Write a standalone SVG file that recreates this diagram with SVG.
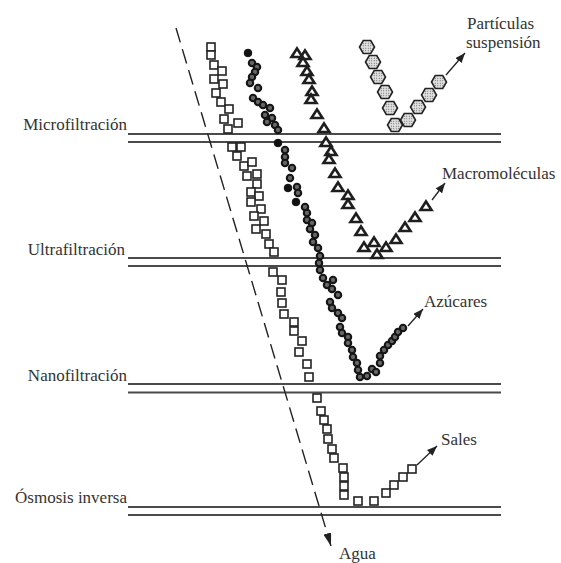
<svg xmlns="http://www.w3.org/2000/svg" width="561" height="563" viewBox="0 0 561 563">
<style>
.lbl{font-size:17px;fill:#333}
.mem{stroke:#4a4a4a;stroke-width:2;fill:none}
.sq{fill:#fff;stroke:#222;stroke-width:1.6}
.ci{fill:#666;stroke:#151515;stroke-width:2.1}
.cb{fill:#111;stroke:#111;stroke-width:1}
.tr{fill:#fff;stroke:#1e1e1e;stroke-width:2.6;stroke-linejoin:miter}
.hx{fill:url(#dots);stroke:#222;stroke-width:1.6}
.arr{stroke:#222;stroke-width:1.3;fill:none;marker-end:url(#ah)}
</style>
<defs>
<marker id="ah" markerUnits="userSpaceOnUse" markerWidth="10" markerHeight="8" refX="10" refY="4" orient="auto"><path d="M0,0 L10,4 L0,8 z" fill="#222"/></marker>
<marker id="ah2" markerUnits="userSpaceOnUse" markerWidth="13" markerHeight="8" refX="13" refY="4" orient="auto"><path d="M0,0 L13,4 L0,8 z" fill="#222"/></marker>
<pattern id="dots" patternUnits="userSpaceOnUse" width="2.5" height="2.5"><rect width="2.5" height="2.5" fill="#e2e2e2"/><circle cx="1.25" cy="1.25" r="0.55" fill="#555"/></pattern>
<polygon id="tri" points="-5.5,4 5.5,4 0,-4.5"/>
<polygon id="hex" points="7.5,0 3.75,6.5 -3.75,6.5 -7.5,0 -3.75,-6.5 3.75,-6.5"/>
</defs>
<rect width="561" height="563" fill="#fff"/>

<g id="membranes">
<line class="mem" x1="128" y1="134" x2="501" y2="134"/><line class="mem" x1="128" y1="142" x2="501" y2="142"/>
<line class="mem" x1="128" y1="258" x2="501" y2="258"/><line class="mem" x1="128" y1="266" x2="501" y2="266"/>
<line class="mem" x1="128" y1="384" x2="501" y2="384"/><line class="mem" x1="128" y1="392.5" x2="501" y2="392.5"/>
<line class="mem" x1="128" y1="507" x2="501" y2="507"/><line class="mem" x1="128" y1="515" x2="501" y2="515"/>
</g>

<g id="labels" font-family="'Liberation Serif', 'Times New Roman', Tinos, 'DejaVu Serif', serif">
<text class="lbl" x="127" y="130" text-anchor="end">Microfiltración</text>
<text class="lbl" x="125" y="255" text-anchor="end">Ultrafiltración</text>
<text class="lbl" x="127" y="381" text-anchor="end">Nanofiltración</text>
<text class="lbl" x="127" y="503" text-anchor="end">Ósmosis inversa</text>
<text class="lbl" x="467" y="29">Partículas</text>
<text class="lbl" x="466" y="48">suspensión</text>
<text class="lbl" x="442" y="179">Macromoléculas</text>
<text class="lbl" x="424" y="307">Azúcares</text>
<text class="lbl" x="441" y="445">Sales</text>
<text class="lbl" x="339" y="559">Agua</text>
</g>

<g id="connectors">
<line x1="176" y1="28" x2="331" y2="546" stroke="#222" stroke-width="1.4" stroke-dasharray="15 7" marker-end="url(#ah2)"/>
<line class="arr" x1="446" y1="75" x2="465" y2="53"/>
<line class="arr" x1="432" y1="200" x2="445" y2="183"/>
<line class="arr" x1="408" y1="326" x2="423" y2="309"/>
<line class="arr" x1="417" y1="465" x2="437" y2="446"/>
</g>

<g id="water-salts">
<rect class="sq" x="207" y="43" width="8" height="8"/><rect class="sq" x="207" y="51" width="8" height="8"/>
<rect class="sq" x="210" y="61" width="8" height="8"/><rect class="sq" x="218" y="67" width="8" height="8"/>
<rect class="sq" x="210" y="75" width="8" height="8"/><rect class="sq" x="219" y="80" width="8" height="8"/>
<rect class="sq" x="212" y="89" width="8" height="8"/><rect class="sq" x="217" y="98" width="8" height="8"/>
<rect class="sq" x="225" y="105" width="8" height="8"/><rect class="sq" x="220" y="115" width="8" height="8"/>
<rect class="sq" x="234" y="119" width="8" height="8"/><rect class="sq" x="224" y="125" width="8" height="8"/>
<rect class="sq" x="228" y="143" width="8" height="8"/><rect class="sq" x="237" y="143" width="8" height="8"/>
<rect class="sq" x="233" y="152" width="8" height="8"/><rect class="sq" x="240" y="162" width="8" height="8"/>
<rect class="sq" x="248" y="158" width="8" height="8"/><rect class="sq" x="243" y="172" width="8" height="8"/>
<rect class="sq" x="253" y="170" width="8" height="8"/><rect class="sq" x="253" y="180" width="8" height="8"/>
<rect class="sq" x="247" y="188" width="8" height="8"/><rect class="sq" x="255" y="192" width="8" height="8"/>
<rect class="sq" x="247" y="198" width="8" height="8"/><rect class="sq" x="257" y="205" width="8" height="8"/>
<rect class="sq" x="250" y="212" width="8" height="8"/><rect class="sq" x="260" y="217" width="8" height="8"/>
<rect class="sq" x="252" y="225" width="8" height="8"/><rect class="sq" x="262" y="230" width="8" height="8"/>
<rect class="sq" x="265" y="240" width="8" height="8"/><rect class="sq" x="270" y="248" width="8" height="8"/>
<rect class="sq" x="269" y="268" width="8" height="8"/><rect class="sq" x="278" y="276" width="8" height="8"/>
<rect class="sq" x="277" y="288" width="8" height="8"/><rect class="sq" x="278" y="299" width="8" height="8"/>
<rect class="sq" x="280" y="310" width="8" height="8"/><rect class="sq" x="290" y="318" width="8" height="8"/>
<rect class="sq" x="290" y="327" width="8" height="8"/><rect class="sq" x="298" y="337" width="8" height="8"/>
<rect class="sq" x="295" y="348" width="8" height="8"/><rect class="sq" x="303" y="360" width="8" height="8"/>
<rect class="sq" x="305" y="373" width="8" height="8"/>
<rect class="sq" x="313" y="394" width="8" height="8"/><rect class="sq" x="317" y="407" width="8" height="8"/>
<rect class="sq" x="320" y="416" width="8" height="8"/><rect class="sq" x="323" y="425" width="8" height="8"/>
<rect class="sq" x="324" y="435" width="8" height="8"/><rect class="sq" x="328" y="445" width="8" height="8"/>
<rect class="sq" x="330" y="454" width="8" height="8"/><rect class="sq" x="339" y="464" width="8" height="8"/>
<rect class="sq" x="340" y="473" width="8" height="8"/><rect class="sq" x="340" y="482" width="8" height="8"/>
<rect class="sq" x="340" y="491" width="8" height="8"/>
<rect class="sq" x="354" y="497" width="8" height="8"/><rect class="sq" x="370" y="497" width="8" height="8"/>
<rect class="sq" x="382" y="489" width="8" height="8"/><rect class="sq" x="390" y="481" width="8" height="8"/>
<rect class="sq" x="399" y="473" width="8" height="8"/><rect class="sq" x="408" y="465" width="8" height="8"/>
</g>

<g id="sugars">
<circle class="cb" cx="248" cy="53" r="3.8"/>
<circle class="ci" cx="252" cy="63" r="3.2"/><circle class="ci" cx="257" cy="67" r="3.2"/><circle class="ci" cx="255" cy="72" r="3.2"/>
<circle class="ci" cx="252" cy="77" r="3.2"/><circle class="ci" cx="250" cy="83" r="3.2"/><circle class="ci" cx="258" cy="88" r="3.2"/>
<circle class="ci" cx="253" cy="98" r="3.2"/><circle class="ci" cx="258" cy="102" r="3.2"/><circle class="ci" cx="263" cy="105" r="3.2"/>
<circle class="ci" cx="270" cy="108" r="3.2"/><circle class="ci" cx="265" cy="115" r="3.2"/><circle class="ci" cx="272" cy="118" r="3.2"/>
<circle class="ci" cx="267" cy="122" r="3.2"/><circle class="ci" cx="275" cy="125" r="3.2"/><circle class="ci" cx="278" cy="130" r="3.2"/>
<circle class="cb" cx="278" cy="143" r="3.8"/>
<circle class="ci" cx="285" cy="150" r="3.2"/><circle class="ci" cx="285" cy="157" r="3.2"/><circle class="ci" cx="285" cy="163" r="3.2"/>
<circle class="ci" cx="292" cy="168" r="3.2"/><circle class="ci" cx="290" cy="178" r="3.2"/><circle class="cb" cx="288" cy="188" r="3.8"/>
<circle class="ci" cx="297" cy="187" r="3.2"/><circle class="ci" cx="298" cy="193" r="3.2"/><circle class="cb" cx="296" cy="202" r="3.8"/>
<circle class="ci" cx="305" cy="207" r="3.2"/><circle class="ci" cx="307" cy="213" r="3.2"/><circle class="ci" cx="307" cy="220" r="3.2"/>
<circle class="ci" cx="312" cy="223" r="3.2"/><circle class="ci" cx="310" cy="229" r="3.2"/><circle class="ci" cx="315" cy="235" r="3.2"/>
<circle class="ci" cx="313" cy="242" r="3.2"/><circle class="ci" cx="318" cy="248" r="3.2"/><circle class="ci" cx="320" cy="256" r="3.2"/>
<circle class="ci" cx="319" cy="263" r="3.2"/><circle class="ci" cx="320" cy="270" r="3.2"/><circle class="ci" cx="323" cy="278" r="3.2"/>
<circle class="ci" cx="333" cy="280" r="3.2"/><circle class="ci" cx="327" cy="285" r="3.2"/><circle class="ci" cx="332" cy="289" r="3.2"/>
<circle class="ci" cx="338" cy="295" r="3.2"/><circle class="ci" cx="330" cy="302" r="3.2"/><circle class="ci" cx="332" cy="308" r="3.2"/>
<circle class="ci" cx="338" cy="313" r="3.2"/><circle class="ci" cx="342" cy="318" r="3.2"/><circle class="ci" cx="340" cy="327" r="3.2"/>
<circle class="ci" cx="342" cy="333" r="3.2"/><circle class="ci" cx="348" cy="337" r="3.2"/><circle class="ci" cx="348" cy="343" r="3.2"/>
<circle class="ci" cx="352" cy="350" r="3.2"/><circle class="ci" cx="353" cy="357" r="3.2"/><circle class="ci" cx="357" cy="363" r="3.2"/>
<circle class="ci" cx="358" cy="370" r="3.2"/><circle class="ci" cx="360" cy="377" r="3.2"/><circle class="ci" cx="367" cy="376" r="3.2"/>
<circle class="ci" cx="372" cy="369" r="3.2"/><circle class="ci" cx="376" cy="372" r="3.2"/><circle class="ci" cx="380" cy="363" r="3.2"/>
<circle class="ci" cx="380" cy="356" r="3.2"/><circle class="ci" cx="384" cy="350" r="3.2"/><circle class="ci" cx="388" cy="345" r="3.2"/>
<circle class="ci" cx="392" cy="341" r="3.2"/><circle class="ci" cx="395" cy="337" r="3.2"/><circle class="ci" cx="398" cy="332" r="3.2"/>
<circle class="ci" cx="403" cy="328" r="3.2"/>
</g>

<g id="macromolecules">
<use href="#tri" class="tr" x="297" y="53"/><use href="#tri" class="tr" x="305" y="55"/><use href="#tri" class="tr" x="303" y="62"/>
<use href="#tri" class="tr" x="307" y="71"/><use href="#tri" class="tr" x="309" y="79"/><use href="#tri" class="tr" x="312" y="91"/>
<use href="#tri" class="tr" x="311" y="99"/><use href="#tri" class="tr" x="317" y="114"/><use href="#tri" class="tr" x="324" y="128"/>
<use href="#tri" class="tr" x="326" y="142"/><use href="#tri" class="tr" x="331" y="151"/><use href="#tri" class="tr" x="329" y="159"/>
<use href="#tri" class="tr" x="335" y="173"/><use href="#tri" class="tr" x="338" y="187"/><use href="#tri" class="tr" x="348" y="195"/>
<use href="#tri" class="tr" x="348" y="204"/><use href="#tri" class="tr" x="356" y="218"/><use href="#tri" class="tr" x="361" y="231"/>
<use href="#tri" class="tr" x="374" y="242"/><use href="#tri" class="tr" x="364" y="247"/><use href="#tri" class="tr" x="377" y="254"/>
<use href="#tri" class="tr" x="386" y="247"/><use href="#tri" class="tr" x="396" y="239"/><use href="#tri" class="tr" x="405" y="227"/>
<use href="#tri" class="tr" x="415" y="217"/><use href="#tri" class="tr" x="426" y="206"/>
</g>

<g id="particles">
<use href="#hex" class="hx" x="367" y="47"/><use href="#hex" class="hx" x="373" y="62"/><use href="#hex" class="hx" x="378" y="77"/>
<use href="#hex" class="hx" x="385" y="92"/><use href="#hex" class="hx" x="390" y="108"/><use href="#hex" class="hx" x="395" y="125"/>
<use href="#hex" class="hx" x="408" y="120"/><use href="#hex" class="hx" x="418" y="107"/><use href="#hex" class="hx" x="429" y="95"/>
<use href="#hex" class="hx" x="439" y="82"/>
</g>
</svg>
